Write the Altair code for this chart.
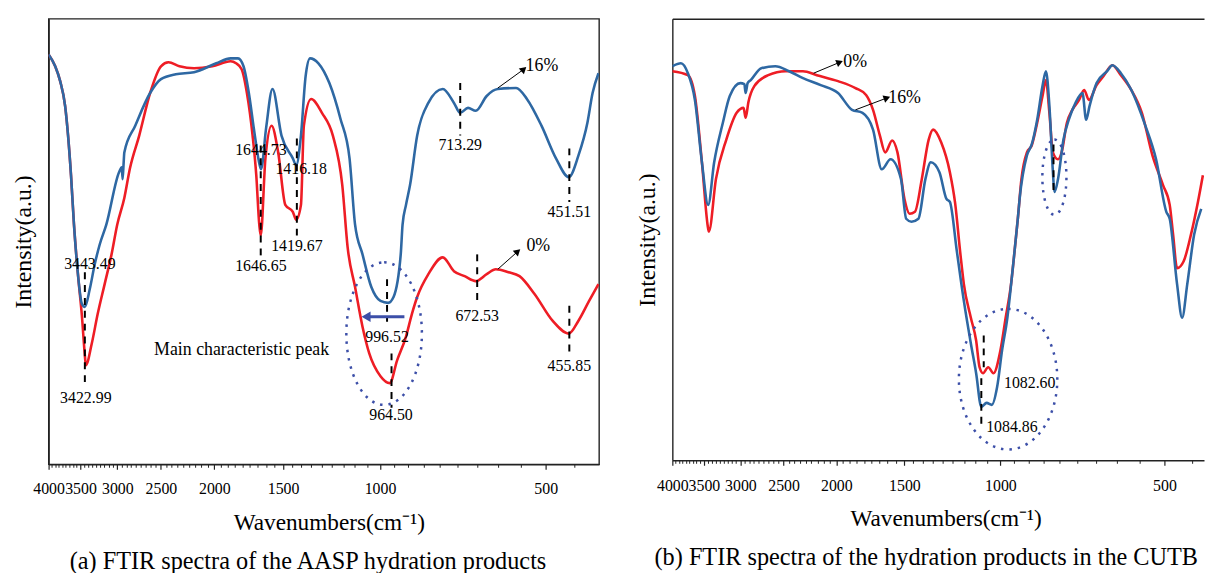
import altair as alt
import pandas as pd

FONT = "Liberation Serif"
RED = "#ee1d25"
BLUE = "#2e68a3"
DOT = "#3c4fa8"

# ---------------- panel (a): AASP hydration products ----------------
a_wn_0 = [4000, 3891, 3811, 3733, 3687, 3642, 3597, 3538, 3480, 3437, 3423, 3339, 3257, 3164,
          3074, 3002, 2914, 2846, 2738, 2616, 2500, 2423, 2314, 2177, 2017, 1868, 1826, 1784,
          1745, 1704, 1678, 1657, 1647, 1615, 1574, 1531, 1486, 1440, 1420, 1392, 1375, 1334,
          1275, 1218, 1171, 1145, 1110, 1076, 1046, 998, 960, 931, 897, 875, 856, 817, 769,
          734, 702, 670, 640, 616, 584, 558, 524, 486, 454, 436, 417, 401]
a_in_0 = [414, 402, 387, 362, 332, 292, 242, 192, 150, 110, 100, 122, 152, 182,
          212, 242, 269, 299, 332, 375, 402, 406, 402, 400, 402, 407, 405, 399,
          375, 332, 292, 242, 231, 309, 342, 315, 262, 255, 247, 262, 342, 369,
          355, 332, 282, 219, 179, 139, 112, 89, 82, 105, 129, 152, 169, 192, 209,
          195, 190, 185, 192, 197, 194, 190, 172, 145, 132, 145, 165, 182]

a_wn_16 = [4000, 3891, 3811, 3733, 3687, 3642, 3597, 3538, 3480, 3437, 3367, 3298, 3230, 3142,
           2979, 2945, 2935, 2922, 2914, 2784, 2616, 2500, 2350, 2177, 1984, 1868, 1811, 1770,
           1731, 1691, 1654, 1645, 1610, 1568, 1510, 1440, 1420, 1392, 1365, 1340, 1294, 1236,
           1180, 1136, 1110, 1076, 1037, 998, 967, 945, 917, 910, 897, 882, 856, 817, 769,
           734, 715, 692, 670, 640, 611, 566, 541, 509, 479, 454, 436, 420, 411, 401]
a_in_16 = [414, 402, 387, 362, 332, 292, 242, 192, 162, 159, 177, 202, 222, 242,
           295, 300, 288, 305, 315, 342, 375, 389, 394, 396, 405, 410, 410, 402,
           375, 335, 302, 298, 340, 379, 332, 309, 302, 332, 392, 410, 405, 385,
           349, 309, 242, 212, 179, 165, 163, 169, 212, 242, 262, 282, 332, 365, 379,
           365, 355, 360, 357, 372, 379, 380, 369, 342, 309, 290, 312, 345, 375, 395]

a_mk_wn = [3437, 1647, 1416, 971, 953, 715, 453, 666, 453]
a_mk_lo = [77, 207, 230, 144, 57, 332, 265, 160, 112]
a_mk_hi = [194, 322, 329, 187, 112, 385, 319, 212, 160]

a_lab_txt = ["3443.49", "3422.99", "1644.73", "1646.65", "1416.18", "1419.67",
             "996.52", "964.50", "713.29", "451.51", "672.53", "455.85"]
a_lab_wn = [3366, 3423, 1646, 1646, 1391, 1416, 971, 955, 715, 453, 666, 453]
a_lab_in = [202, 67, 317, 200, 298, 220, 129, 50, 322, 255, 150, 99]

a_pct_txt = ["16%", "0%"]
a_pct_wn = [544, 542]
a_pct_in = [402, 220]
a_arr_wn0 = [611, 611]
a_arr_in0 = [380, 197]
a_arr_wn1 = [548, 562]
a_arr_in1 = [399, 215]
a_arr_ang = [48, 48]

a_note_txt = ["Main characteristic peak"]
a_note_wn = [2573]
a_note_in = [115]

a_shift_wn0 = [903]
a_shift_wn1 = [1060]
a_shift_in = [149]

a_ell_wn = [983]
a_ell_in = [132]

# ---------------- panel (b): CUTB hydration products ----------------
b_wn_0 = [4000, 3746, 3636, 3530, 3438, 3428, 3327, 3184, 3048, 2960, 2935, 2900, 2829, 2667,
          2478, 2303, 2172, 1986, 1845, 1764, 1713, 1664, 1627, 1580, 1545, 1500, 1467, 1435,
          1394, 1354, 1329, 1284, 1238, 1211, 1184, 1167, 1133, 1108, 1092, 1076, 1053, 1030,
          1000, 978, 956, 942, 929, 915, 894, 876, 856, 837, 825, 813, 801, 784, 772, 755,
          738, 717, 702, 688, 666, 647, 623, 601, 575, 550, 526, 503, 489, 482, 474, 461,
          447, 434, 425]
b_in_0 = [393, 389, 368, 301, 234, 231, 284, 324, 351, 356, 346, 362, 378, 389,
          393, 393, 389, 383, 376, 369, 354, 328, 311, 323, 311, 264, 249, 251,
          284, 324, 334, 321, 291, 260, 208, 178, 144, 121, 94, 88, 94, 88,
          111, 144, 178, 211, 244, 284, 311, 318, 341, 368, 384, 351, 311, 304, 311, 341,
          354, 364, 374, 364, 379, 388, 399, 389, 374, 351, 308, 278, 258, 228, 194, 201,
          228, 261, 288]

b_wn_16 = [4000, 3857, 3746, 3636, 3530, 3438, 3352, 3231, 3138, 3001, 2950, 2935, 2910, 2872,
           2747, 2589, 2442, 2303, 2137, 1986, 1872, 1791, 1713, 1651, 1591, 1522, 1489, 1456,
           1414, 1373, 1342, 1294, 1256, 1238, 1202, 1167, 1133, 1108, 1084, 1060, 1037, 1014,
           993, 971, 949, 929, 922, 894, 876, 856, 837, 825, 813, 801, 796, 784, 766, 749,
           728, 707, 696, 686, 666, 637, 623, 601, 575, 542, 518, 496, 489, 474, 464, 454,
           441, 428]
b_in_16 = [398, 401, 391, 364, 301, 258, 301, 341, 368, 381, 380, 371, 381, 384,
           396, 398, 393, 386, 379, 371, 354, 351, 334, 294, 304, 284, 244, 241,
           244, 284, 301, 291, 264, 261, 211, 161, 118, 88, 54, 58, 56, 74,
           111, 144, 194, 244, 264, 308, 319, 344, 378, 393, 358, 291, 271, 284, 324, 344,
           361, 371, 344, 358, 381, 393, 399, 391, 374, 338, 304, 251, 244, 178, 144, 178,
           228, 254]

b_mk_wn = [799, 1073, 1084]
b_mk_lo = [268, 94, 31]
b_mk_hi = [319, 126, 83]

b_lab_txt = ["1082.60", "1084.86"]
b_lab_wn = [985, 1062]
b_lab_in = [78, 34]

b_pct_txt = ["0%", "16%"]
b_pct_wn = [1942, 1606]
b_pct_in = [402, 366]
b_arr_wn0 = [2202, 1845]
b_arr_in0 = [391, 354]
b_arr_wn1 = [1972, 1615]
b_arr_in1 = [402, 366]
b_arr_ang = [68, 70]

b_ell_wn = [968, 796]
b_ell_in = [82, 286]

major_ticks = [4000, 3500, 3000, 2500, 2000, 1500, 1000, 500]


def minor_ticks(lo):
    vals = []
    for m in major_ticks:
        for k in range(1, 9):
            v = m - k * 500 / 9
            if v >= lo:
                vals.append(round(v, 2))
    return vals


def panel(wn0, in0, wn16, in16, mk, labs, pcts, arrows, ellipses, lo, width, height,
          caption, cap_dx, title_x, framed, note=None, shift=None):
    xs = alt.Scale(type="log", domain=[lo, 4000], reverse=True, nice=False, zero=False)
    ys = alt.Scale(domain=[0, height], nice=False, zero=True)
    yax = alt.Axis(title="Intensity(a.u.)", labels=False, ticks=False, grid=False, domain=True,
                   titleFont=FONT, titleFontSize=24, titleFontWeight="normal", titlePadding=13,
                   titleColor="black", domainColor="#222", domainWidth=1.4)

    def Y(f):
        return alt.Y(f, type="quantitative", scale=ys, axis=yax)

    main_ax = alt.Axis(values=major_ticks, format="d", orient="bottom", grid=False,
                       labelFont=FONT, labelFontSize=16, labelColor="black", labelOverlap=False,
                       labelFlush=False, labelPadding=12, tickSize=5, tickWidth=1.2, tickColor="#222",
                       domainColor="#222", domainWidth=1.4,
                       title="Wavenumbers(cm\u207b\u00b9)", titleFont=FONT, titleFontSize=23.5,
                       titleFontWeight="normal", titleColor="black", titlePadding=14, titleX=title_x)
    minor_ax = alt.Axis(values=minor_ticks(lo), orient="bottom", labels=False, grid=False,
                        domain=False, tickSize=3, tickWidth=1, tickColor="#222", title=None)

    d0 = pd.DataFrame({"wn": wn0, "i": in0})
    d16 = pd.DataFrame({"wn": wn16, "i": in16})

    layers = [
        alt.Chart(d0).mark_line(color=RED, strokeWidth=2.6, clip=True, interpolate="monotone").encode(
            x=alt.X("wn", type="quantitative", scale=xs, axis=main_ax), y=Y("i")),
        alt.Chart(d16).mark_line(color=BLUE, strokeWidth=2.6, clip=True, interpolate="monotone").encode(
            x=alt.X("wn", type="quantitative", scale=xs, axis=minor_ax), y=Y("i")),
    ]
    if not framed:
        top_ax = alt.Axis(orient="top", values=[4000], labels=False, grid=False, domain=True,
                          domainColor="#222", domainWidth=1.4, tickSize=3, tickColor="white",
                          title=None)
        layers.append(alt.Chart(d16).mark_line(opacity=0).encode(
            x=alt.X("wn", type="quantitative", scale=xs, axis=top_ax), y=Y("i")))

    def X(f):
        return alt.X(f, type="quantitative", scale=xs, axis=None)

    mk_df = pd.DataFrame({"wn": mk[0], "lo": mk[1], "hi": mk[2]})
    layers.append(alt.Chart(mk_df).mark_rule(color="black", strokeWidth=2, strokeDash=[7, 6]).encode(
        x=X("wn"), y=Y("hi"), y2=alt.Y2("lo")))

    lab_df = pd.DataFrame({"t": labs[0], "wn": labs[1], "i": labs[2], "al": labs[3]})
    for al in ["center", "left"]:
        sub = lab_df[lab_df["al"] == al]
        if len(sub):
            layers.append(alt.Chart(sub).mark_text(font=FONT, fontSize=16, color="black",
                                                   align=al, baseline="middle").encode(
                x=X("wn"), y=Y("i"), text="t:N"))

    pct_df = pd.DataFrame({"t": pcts[0], "wn": pcts[1], "i": pcts[2]})
    layers.append(alt.Chart(pct_df).mark_text(font=FONT, fontSize=18, color="black",
                                              align="left", baseline="middle").encode(
        x=X("wn"), y=Y("i"), text="t:N"))

    arr_df = pd.DataFrame({"w0": arrows[0], "i0": arrows[1], "w1": arrows[2], "i1": arrows[3],
                           "ang": arrows[4]})
    layers.append(alt.Chart(arr_df).mark_rule(color="black", strokeWidth=1).encode(
        x=X("w0"), x2=alt.X2("w1"), y=Y("i0"), y2=alt.Y2("i1")))
    layers.append(alt.Chart(arr_df).mark_point(shape="triangle-up", filled=True, color="black",
                                               size=60, opacity=1).encode(
        x=X("w1"), y=Y("i1"), angle=alt.Angle("ang", type="quantitative", scale=None)))

    if note is not None:
        nd = pd.DataFrame({"t": note[0], "wn": note[1], "i": note[2]})
        layers.append(alt.Chart(nd).mark_text(font=FONT, fontSize=18, color="black",
                                              align="left", baseline="middle").encode(
            x=X("wn"), y=Y("i"), text="t:N"))
    if shift is not None:
        sd = pd.DataFrame({"w0": shift[0], "w1": shift[1], "i": shift[2]})
        layers.append(alt.Chart(sd).mark_rule(color=DOT, strokeWidth=3).encode(
            x=X("w0"), x2=alt.X2("w1"), y=Y("i")))
        layers.append(alt.Chart(sd).mark_point(shape="triangle-left", filled=True, color=DOT,
                                               size=110, opacity=1).encode(x=X("w1"), y=Y("i")))

    for (w, i, k, s) in ellipses:
        path = f"M0,-1A{k},1 0 1,1 0,1A{k},1 0 1,1 0,-1Z"
        ed = pd.DataFrame({"wn": [w], "i": [i]})
        layers.append(alt.Chart(ed).mark_point(shape=path, size=s, filled=False, color=DOT,
                                               strokeWidth=2.5, strokeDash=[2.5, 6], opacity=1).encode(
            x=X("wn"), y=Y("i")))

    view = {"stroke": "#222", "strokeWidth": 1.4} if framed else {"stroke": "transparent"}
    return alt.layer(*layers).resolve_axis(x="independent").properties(
        width=width, height=height, view=view,
        title=alt.TitleParams(text=caption, orient="bottom", anchor="middle", font=FONT,
                              fontSize=24.5, fontWeight="normal", color="black", offset=16, dx=cap_dx))


a_align = ["center"] * len(a_lab_txt)
chart_a = panel(
    a_wn_0, a_in_0, a_wn_16, a_in_16,
    (a_mk_wn, a_mk_lo, a_mk_hi),
    (a_lab_txt, a_lab_wn, a_lab_in, a_align),
    (a_pct_txt, a_pct_wn, a_pct_in),
    (a_arr_wn0, a_arr_in0, a_arr_wn1, a_arr_in1, a_arr_ang),
    [(a_ell_wn[0], a_ell_in[0], 0.53, 20736)],
    400, 556, 450, "(a) FTIR spectra of the AASP hydration products", -16, 283, True,
    note=(a_note_txt, a_note_wn, a_note_in),
    shift=(a_shift_wn0, a_shift_wn1, a_shift_in))

b_align = ["left"] * len(b_lab_txt)
chart_b = panel(
    b_wn_0, b_in_0, b_wn_16, b_in_16,
    (b_mk_wn, b_mk_lo, b_mk_hi),
    (b_lab_txt, b_lab_wn, b_lab_in, b_align),
    (b_pct_txt, b_pct_wn, b_pct_in),
    (b_arr_wn0, b_arr_in0, b_arr_wn1, b_arr_in1, b_arr_ang),
    [(b_ell_wn[0], b_ell_in[0], 0.70, 20164), (b_ell_wn[1], b_ell_in[1], 0.32, 5776)],
    423, 537, 446, "(b) FTIR spectra of the hydration products in the CUTB", -12, 276, False)

chart = alt.hconcat(chart_a, chart_b, spacing=35).properties(
    padding={"left": 3, "top": 4, "right": 0, "bottom": 0}
).configure_view(strokeWidth=1.4).configure(background="white")

chart.save("out.html", embed_options={"renderer": "svg", "actions": False})
